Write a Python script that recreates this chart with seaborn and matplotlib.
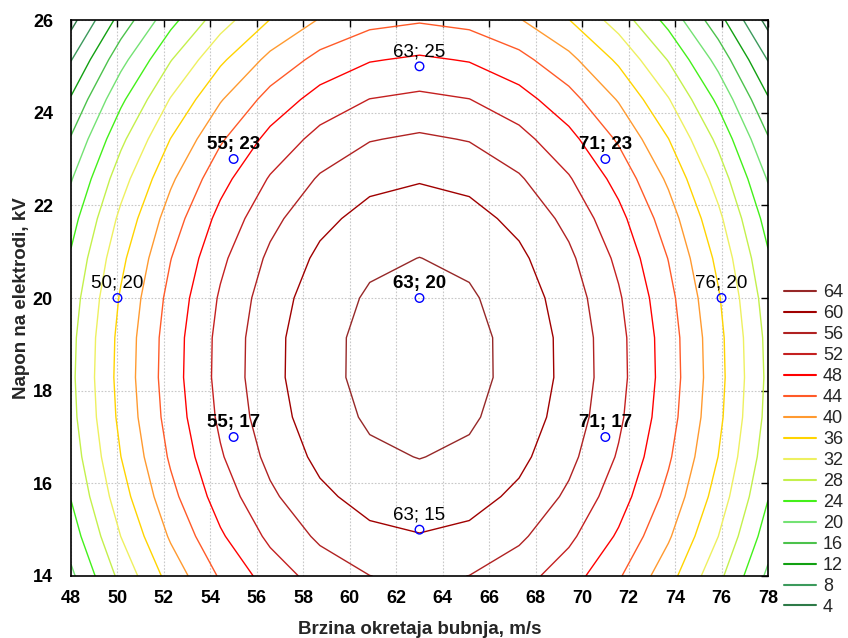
import numpy as np
import pandas as pd
import matplotlib
matplotlib.use("Agg")
import matplotlib.pyplot as plt
import seaborn as sns
from matplotlib.lines import Line2D

# ---- data (design points and responses) ----
speed = [63, 55, 71, 50, 63, 76, 55, 71, 63]          # Brzina okretaja bubnja, m/s
voltage = [25, 23, 23, 20, 20, 20, 17, 17, 15]        # Napon na elektrodi, kV
response = [49.33, 46.82, 46.82, 35.79, 65.29, 35.79, 53.86, 53.86, 60.25]
point_bold = [False, True, True, False, True, False, True, True, False]

levels = [4, 8, 12, 16, 20, 24, 28, 32, 36, 40, 44, 48, 52, 56, 60, 64]
level_colors = ["#2E7A48", "#3C9A5C", "#12A012", "#4CC24C", "#74E274", "#44F01A",
                "#C4F04C", "#EEF060", "#FFD400", "#FF9A30", "#FF5A28", "#FF0000",
                "#C42020", "#B02222", "#A00000", "#962828"]

x_ticks = list(range(48, 79, 2))
y_ticks = list(range(14, 27, 2))

# ---- response surface fitted to the design points (centred coordinates) ----
df = pd.DataFrame({"x": speed, "y": voltage, "z": response})
xc, yc = 63.0, 20.0


def terms(x, y):
    u, v = np.asarray(x, float) - xc, np.asarray(y, float) - yc
    return [np.ones_like(u), u, v, u**2, v**2, u*v, u**2*v]


A = np.column_stack(terms(df.x, df.y))
coef, *_ = np.linalg.lstsq(A, df.z.values, rcond=None)
gx = np.linspace(48, 78, 15)
gy = np.linspace(14, 26, 15)
GX, GY = np.meshgrid(gx, gy)
GZ = sum(c * t for c, t in zip(coef, terms(GX, GY)))

sns.set_style("white")
plt.rcParams["font.family"] = ["Liberation Sans", "DejaVu Sans"]

fig = plt.figure(figsize=(8.48, 6.38), dpi=100)
ax = fig.add_axes([71/848, 1-576/638, (768-71)/848, (576-20)/638])

ax.contour(GX, GY, GZ, levels=levels, colors=level_colors, linewidths=1.0)

sns.scatterplot(data=df, x="x", y="y", ax=ax, marker="o", s=38,
                facecolor="none", edgecolor="#0000FF", linewidth=1.0, zorder=5,
                legend=False)
for xi, yi, b in zip(speed, voltage, point_bold):
    ax.annotate(f"{xi}; {yi}", (xi, yi), xytext=(0, 4.5), textcoords="offset points",
                ha="center", va="bottom", fontsize=13.5,
                fontweight="bold" if b else "normal", color="black", zorder=6)

ax.set_xlim(48, 78)
ax.set_ylim(14, 26)
ax.set_xticks(x_ticks)
ax.set_yticks(y_ticks)
ax.grid(True, color="#c8c8c8", linestyle=(0, (1.5, 1.5)), linewidth=0.8)
ax.set_axisbelow(True)
ax.tick_params(direction="in", length=5, width=1, top=True, right=True,
               labelsize=13, colors="black")
ax.tick_params(axis="x", pad=10)
ax.tick_params(axis="y", pad=13)
for lab in ax.get_xticklabels() + ax.get_yticklabels():
    lab.set_fontweight("bold")
for sp in ax.spines.values():
    sp.set_color("black")
    sp.set_linewidth(1.2)
ax.set_xlabel("Brzina okretaja bubnja, m/s", fontsize=13.5, fontweight="bold", labelpad=10)
ax.set_ylabel("Napon na elektrodi, kV", fontsize=13.5, fontweight="bold", labelpad=2)

handles = [Line2D([0], [0], color=c, lw=1.5) for c in level_colors[::-1]]
labels = [str(v) for v in levels[::-1]]
fig.legend(handles, labels, loc="upper left", bbox_to_anchor=(777/848, 1-277/638),
           frameon=False, fontsize=13, handlelength=1.75, handletextpad=0.4,
           labelspacing=0.22, borderaxespad=0)

fig.savefig("out.png", dpi=100)
